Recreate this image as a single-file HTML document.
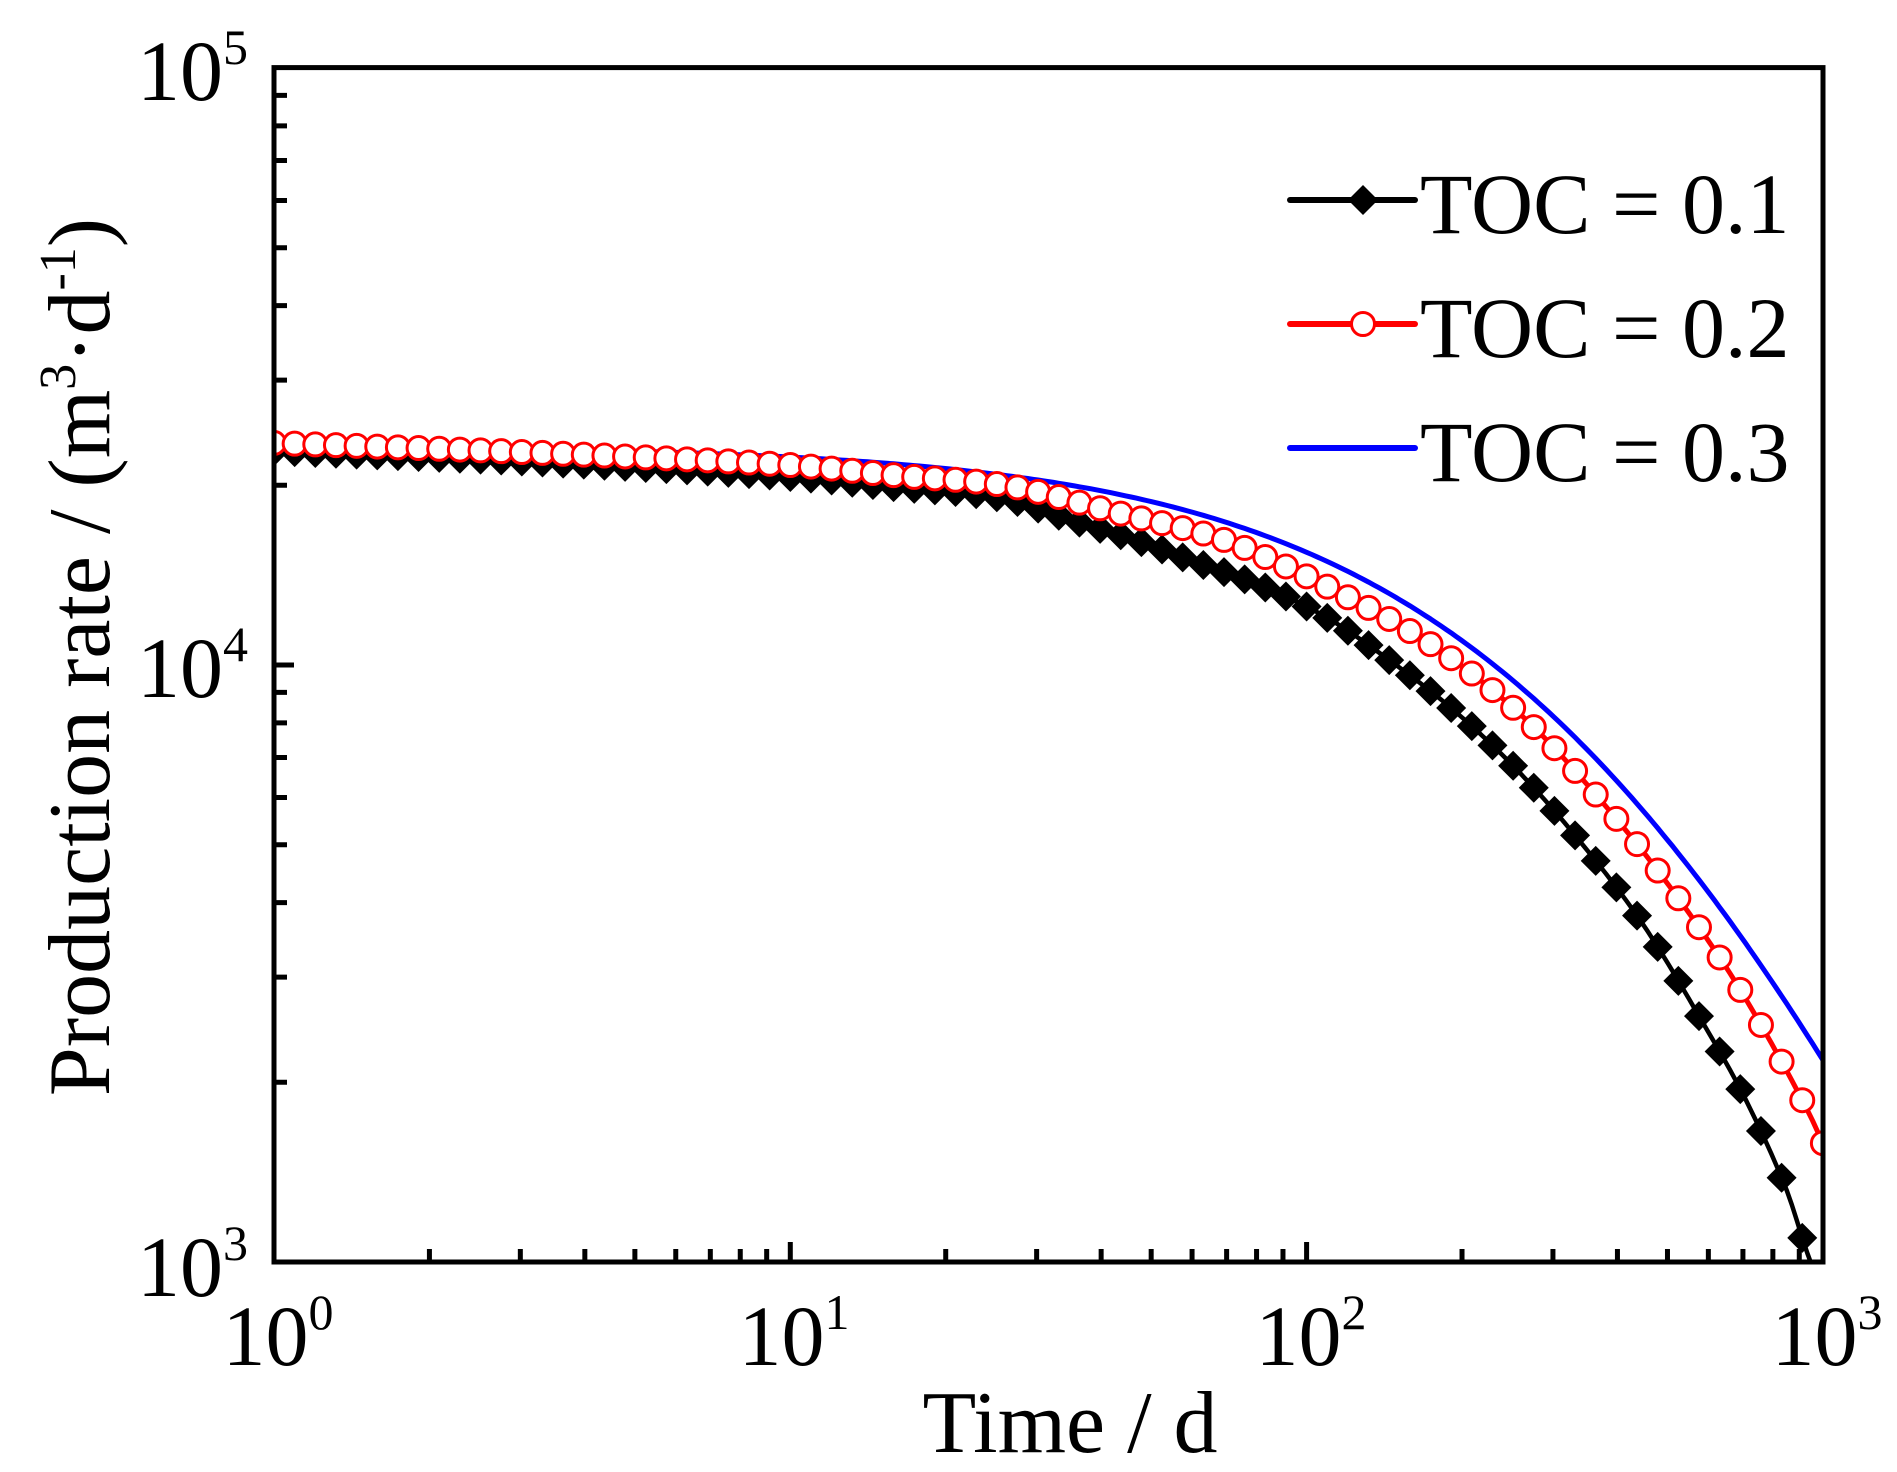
<!DOCTYPE html>
<html><head><meta charset="utf-8"><style>html,body{margin:0;padding:0;background:#fff}svg{display:block}</style></head>
<body>
<svg id="s" width="1897" height="1472" viewBox="0 0 1897 1472" xmlns="http://www.w3.org/2000/svg" font-family="Liberation Serif, serif">
<rect width="1897" height="1472" fill="#fff"/>
<defs><clipPath id="c"><rect x="274" y="67" width="1551" height="1197"/></clipPath></defs>
<g id="series" clip-path="url(#c)"></g>
<g id="axes"></g>
<g font-size="86" fill="#000">
<text x="248" y="100" text-anchor="end">10<tspan font-size="50" dy="-36">5</tspan></text>
<text x="248" y="697" text-anchor="end">10<tspan font-size="50" dy="-36">4</tspan></text>
<text x="248" y="1296" text-anchor="end">10<tspan font-size="50" dy="-36">3</tspan></text>
<text x="278" y="1365" text-anchor="middle">10<tspan font-size="50" dy="-36">0</tspan></text>
<text x="794" y="1365" text-anchor="middle">10<tspan font-size="50" dy="-36">1</tspan></text>
<text x="1311" y="1365" text-anchor="middle">10<tspan font-size="50" dy="-36">2</tspan></text>
<text x="1827" y="1365" text-anchor="middle">10<tspan font-size="50" dy="-36">3</tspan></text>
<text x="1070" y="1452" text-anchor="middle" font-size="88">Time / d</text>
<text transform="translate(109,657) rotate(-90)" text-anchor="middle" font-size="88">Production rate / (m<tspan font-size="52" dy="-34">3</tspan><tspan dy="34">·d</tspan><tspan font-size="52" dy="-34">-1</tspan><tspan dy="34">)</tspan></text>
<text x="1420" y="233" font-size="86">TOC = 0.1</text>
<text x="1420" y="357" font-size="86">TOC = 0.2</text>
<text x="1420" y="481" font-size="86">TOC = 0.3</text>
</g>
<g id="leg"></g>
</svg>
<script>
const NS="http://www.w3.org/2000/svg";
function el(p,t,a){const e=document.createElementNS(NS,t);for(const k in a)e.setAttribute(k,a[k]);p.appendChild(e);return e;}
const X=u=>274+u*516.3, Y=v=>1262-(v-3)*597;
const black=[[0,4.358],[0.5,4.340],[1,4.315],[1.2,4.298],[1.406,4.280],[1.551,4.241],[1.673,4.208],[1.795,4.169],[1.917,4.131],[2.040,4.079],[2.162,4.007],[2.284,3.925],[2.408,3.824],[2.530,3.704],[2.652,3.565],[2.768,3.400],[2.851,3.271],[2.929,3.122],[2.969,3.017],[3.02,2.90]];
const red=[[0,4.372],[0.5,4.356],[1,4.335],[1.2,4.318],[1.424,4.300],[1.629,4.256],[1.828,4.213],[1.950,4.169],[2.072,4.117],[2.196,4.059],[2.318,3.987],[2.440,3.896],[2.562,3.781],[2.685,3.650],[2.807,3.501],[2.890,3.382],[2.969,3.256],[3.008,3.184]];
const blueF=u=>4.368-1.973*Math.log10(1+Math.pow(10,u)/430);
function interp(P,u){
  let i=0;while(i<P.length-2&&u>P[i+1][0])i++;
  const p0=P[Math.max(i-1,0)],p1=P[i],p2=P[i+1],p3=P[Math.min(i+2,P.length-1)];
  const t=(u-p1[0])/(p2[0]-p1[0]);
  const m1=(p2[1]-p0[1])/(p2[0]-p0[0]||1)*(p2[0]-p1[0]);
  const m2=(p3[1]-p1[1])/(p3[0]-p1[0]||1)*(p2[0]-p1[0]);
  const t2=t*t,t3=t2*t;
  return (2*t3-3*t2+1)*p1[1]+(t3-2*t2+t)*m1+(-2*t3+3*t2)*p2[1]+(t3-t2)*m2;
}
const g=document.getElementById('series');
function line(F,col,w){let d="";for(let k=0;k<=300;k++){const u=k*0.01;d+=(k?"L":"M")+X(u).toFixed(1)+","+Y(F(u)).toFixed(1);}el(g,'path',{d:d,fill:'none',stroke:col,'stroke-width':w,'stroke-linejoin':'round'});}
line(u=>interp(black,u),'#000',4.5);line(u=>interp(red,u),'#f00',5);line(blueF,'#00f',5);
for(let k=0;k<=75;k++){const u=k*0.04;const x=X(u),y=Y(interp(black,u));if(y<1290)el(g,'path',{d:`M${x-15},${y}L${x},${y-15}L${x+15},${y}L${x},${y+15}Z`,fill:'#000'});}
for(let k=0;k<=75;k++){const u=k*0.04;const x=X(u),y=Y(interp(red,u));el(g,'circle',{cx:x,cy:y,r:11.5,fill:'#fff',stroke:'#f00','stroke-width':3});}
const a=document.getElementById('axes');
el(a,'rect',{x:274,y:67.6,width:1549,height:1194.4,fill:'none',stroke:'#000','stroke-width':5});
let d="";
for(let dec=0;dec<2;dec++)for(let k=1;k<=9;k++){const y=Y(3+dec+Math.log10(k));const L=(k==1)?(dec==0?0:20):13;if(L)d+=`M274,${y}h${L}`;}
for(let dec=0;dec<3;dec++)for(let k=1;k<=9;k++){const x=X(dec+Math.log10(k));const L=(k==1)?(dec==0?0:20):13;if(L)d+=`M${x},1262v-${L}`;}
el(a,'path',{d:d,stroke:'#000','stroke-width':5,fill:'none'});
const lg=document.getElementById('leg');
[['#000',200],['#f00',324],['#00f',448]].forEach(([c,y])=>{el(lg,'line',{x1:1290,y1:y,x2:1415,y2:y,stroke:c,'stroke-width':6,'stroke-linecap':'round'});});
el(lg,'path',{d:'M1348,200L1363,185L1378,200L1363,215Z',fill:'#000'});
el(lg,'circle',{cx:1363,cy:324,r:11.5,fill:'#fff',stroke:'#f00','stroke-width':3});
</script>
</body></html>
